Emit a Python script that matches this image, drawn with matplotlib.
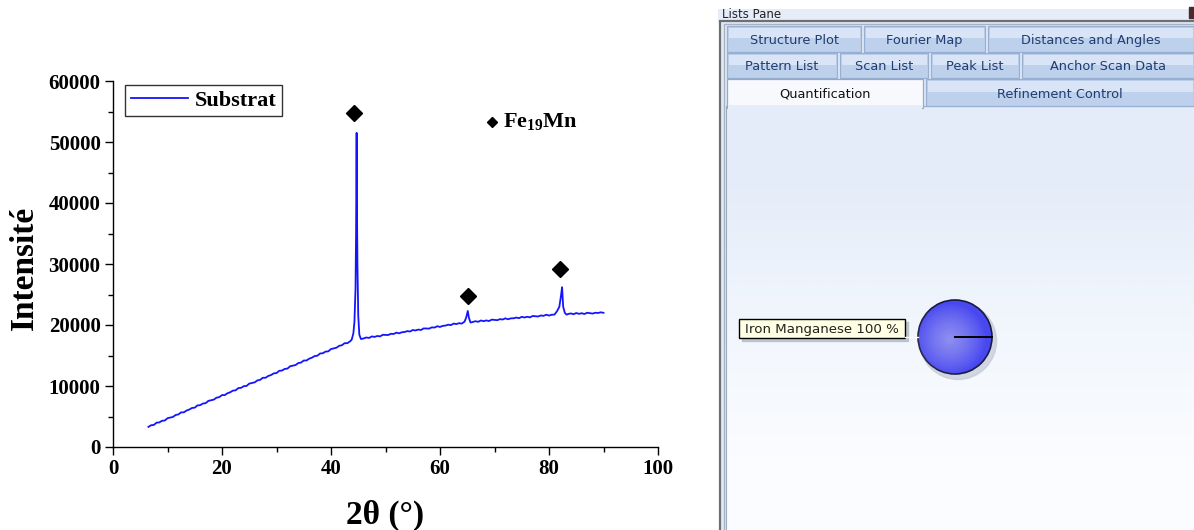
import matplotlib.pyplot as plt
from matplotlib.patches import Rectangle, Circle
from matplotlib.colors import LinearSegmentedColormap

# XRD pattern of the substrate (2theta in degrees, intensity in counts)
two_theta = [
    6.5, 7.0, 7.5, 8.0, 8.5, 9.0, 9.5, 10.0, 10.5, 11.0, 11.5, 12.0, 12.5, 13.0,
    13.5, 14.0, 14.5, 15.0, 15.5, 16.0, 16.5, 17.0, 17.5, 18.0, 18.5, 19.0, 19.5,
    20.0, 20.5, 21.0, 21.5, 22.0, 22.5, 23.0, 23.5, 24.0, 24.5, 25.0, 25.5, 26.0,
    26.5, 27.0, 27.5, 28.0, 28.5, 29.0, 29.5, 30.0, 30.5, 31.0, 31.5, 32.0, 32.5,
    33.0, 33.5, 34.0, 34.5, 35.0, 35.5, 36.0, 36.5, 37.0, 37.5, 38.0, 38.5, 39.0,
    39.5, 40.0, 40.5, 41.0, 41.5, 42.0, 42.5, 43.0, 43.5,
    43.8, 44.1, 44.3, 44.5, 44.6, 44.7, 44.75, 44.85, 45.0, 45.2, 45.5,
    46.0, 46.5, 47.0, 47.5, 48.0, 48.5, 49.0, 49.5, 50.0, 50.5, 51.0, 51.5,
    52.0, 52.5, 53.0, 53.5, 54.0, 54.5, 55.0, 55.5, 56.0, 56.5, 57.0, 57.5,
    58.0, 58.5, 59.0, 59.5, 60.0, 60.5, 61.0, 61.5, 62.0, 62.5, 63.0, 63.5, 64.0,
    64.5, 64.8, 65.1, 65.3, 65.6,
    66.0, 66.5, 67.0, 67.5, 68.0, 68.5, 69.0, 69.5, 70.0, 70.5, 71.0, 71.5,
    72.0, 72.5, 73.0, 73.5, 74.0, 74.5, 75.0, 75.5, 76.0, 76.5, 77.0, 77.5,
    78.0, 78.5, 79.0, 79.5, 80.0, 80.5, 81.0,
    81.5, 81.9, 82.2, 82.4, 82.6, 82.9, 83.2,
    83.5, 84.0, 84.5, 85.0, 85.5, 86.0, 86.5, 87.0, 87.5, 88.0, 88.5, 89.0,
    89.5, 90.0,
]
intensity = [
    3300, 3570, 3620, 3990, 4030, 4300, 4340, 4720, 4830, 4930, 5250, 5340, 5680, 5680,
    5980, 6140, 6400, 6450, 6820, 6860, 7130, 7180, 7560, 7670, 7770, 8090, 8170,
    8510, 8510, 8810, 8970, 9240, 9290, 9660, 9700, 9970, 10010, 10390, 10500, 10600,
    10920, 11010, 11350, 11350, 11650, 11800, 12070, 12120, 12490, 12530, 12800, 12850, 13230,
    13340, 13440, 13760, 13840, 14180, 14180, 14480, 14640, 14910, 14960, 15330, 15370, 15640,
    15680, 16060, 16170, 16270, 16590, 16680, 17020, 17020, 17320,
    17600, 18600, 20500, 26000, 35000, 51500, 41300, 30000, 21500, 18400, 17700,
    17800, 17950, 17880, 18130, 18050, 18200, 18130, 18390, 18380, 18360, 18560, 18530,
    18750, 18630, 18810, 18850, 19000, 18930, 19180, 19100, 19250, 19180, 19440, 19430,
    19410, 19610, 19580, 19800, 19680, 19860, 19900, 20050, 19980, 20230, 20150, 20300, 20230,
    20550, 21200, 22300, 21200, 20400,
    20500, 20620, 20520, 20740, 20630, 20750, 20650, 20880, 20840, 20790, 20960, 20900,
    21090, 20940, 21090, 21100, 21220, 21120, 21340, 21230, 21350, 21250, 21480, 21440,
    21390, 21560, 21500, 21690, 21540, 21690, 21700,
    22300, 23000, 24800, 26200, 23000, 22000, 21700,
    21800, 21900, 21770, 21960, 21830, 21930, 21800, 22010, 21940, 21870, 22010, 21970,
    22080, 22000,
]

# Fe19Mn reflections marked with diamonds
peak_pos = [44.3, 65.1, 82.1]
peak_mark = [54700, 24800, 29200]

# quantification result shown in the software pane
phase_name = 'Iron Manganese'
phase_fraction = [100]

tab_rows = [
    ['Structure Plot', 'Fourier Map', 'Distances and Angles'],
    ['Pattern List', 'Scan List', 'Peak List', 'Anchor Scan Data'],
    ['Quantification', 'Refinement Control'],
]
tab_edges = [
    [727, 864, 988, 1197],
    [727, 840, 931, 1022, 1197],
    [727, 926, 1197],
]
row_top = [26, 53, 79]
row_bot = [52, 78, 106]

plt.rcParams['font.family'] = 'Liberation Serif'
plt.rcParams['mathtext.fontset'] = 'custom'
plt.rcParams['mathtext.rm'] = 'Liberation Serif:bold'
plt.rcParams['mathtext.it'] = 'Liberation Serif:bold'

fig = plt.figure(figsize=(11.94, 5.30), dpi=100)

# ---- XRD pattern ----
ax = fig.add_axes([113 / 1194, 83 / 530, 545 / 1194, 366 / 530])
ax.plot(two_theta, intensity, color='#1414ff', lw=1.3, label='Substrat')
ax.plot(peak_pos, peak_mark, 'D', color='black', ms=8, ls='none')

ax.set_xlim(0, 100)
ax.set_ylim(0, 60000)
ax.set_xticks(range(0, 101, 20))
ax.set_xticks(range(10, 100, 20), minor=True)
ax.set_yticks(range(0, 60001, 10000))
ax.set_yticks(range(5000, 60000, 10000), minor=True)
ax.spines['top'].set_visible(False)
ax.spines['right'].set_visible(False)
for s in ['left', 'bottom']:
    ax.spines[s].set_linewidth(1.0)
ax.tick_params(which='major', direction='out', length=6, width=1, pad=3,
               labelsize=15)
ax.tick_params(which='minor', direction='out', length=3.5, width=1)
for lab in ax.get_xticklabels() + ax.get_yticklabels():
    lab.set_fontweight('bold')

ax.set_xlabel('2θ (°)', fontsize=24, fontweight='bold')
ax.set_ylabel('Intensité', fontsize=24, fontweight='bold')
ax.xaxis.set_label_coords(0.5, -0.145)
ax.yaxis.set_label_coords(-0.135, 0.49)

leg = ax.legend(loc='upper left', bbox_to_anchor=(0.022, 0.99), borderaxespad=0,
                fancybox=False, edgecolor='black', handlelength=2.6,
                handletextpad=0.3, borderpad=0.25,
                prop={'size': 16, 'weight': 'bold'})
leg.get_frame().set_linewidth(1.0)

ax.plot([69.5], [53300], 'D', color='black', ms=5)
ax.text(71.5, 53300, 'Fe$_{19}$Mn', fontsize=16, fontweight='bold',
        va='center', ha='left')

# ---- software "Lists Pane" screenshot ----
axp = fig.add_axes([718 / 1194, 0, 476 / 1194, 1])

axp.add_patch(Rectangle((718, 9), 480, 14, fc='#e6edf8', ec='none'))
axp.text(722, 14, 'Lists Pane', family='DejaVu Sans', fontsize=8.5,
         color='#222222', va='center')
axp.add_patch(Rectangle((1189, 7), 6, 11, color='#4a2a2a'))
axp.add_patch(Rectangle((720, 21), 480, 520, fc='#e2eaf6', ec='#6c6f73', lw=1.6))
axp.add_patch(Rectangle((724, 24), 480, 520, fc='#e2eaf6', ec='#a9b3bf', lw=1.0))

grad = LinearSegmentedColormap.from_list('pane', ['#e4ecf9', '#f1f6fd', '#fbfcff'])
axp.imshow([[0.0], [0.5], [1.0]], cmap=grad, aspect='auto', interpolation='bilinear',
           extent=(726, 1196, 530, 106), zorder=1)
axp.add_patch(Rectangle((726, 106), 470, 430, fc='none', ec='#9aacbf', lw=0.8,
                        zorder=2))

for r, labels in enumerate(tab_rows):
    edges = tab_edges[r]
    for i, lab in enumerate(labels):
        x0, x1 = edges[i], edges[i + 1] - 3
        y0, y1 = row_top[r], row_bot[r]
        if lab == 'Quantification':
            axp.add_patch(Rectangle((x0, y0), x1 - x0, y1 - y0 + 2,
                                    fc='#f7f9fd', ec='#94a9c6', lw=0.9, zorder=3))
            axp.add_patch(Rectangle((x0 + 1, y1 - 1), x1 - x0 - 2, 5,
                                    fc='#e5edf9', ec='none', zorder=3))
            col = '#111111'
        else:
            axp.add_patch(Rectangle((x0, y0), x1 - x0, y1 - y0,
                                    fc='#bed1ec', ec='#97afd0', lw=0.9, zorder=3))
            axp.add_patch(Rectangle((x0 + 1.5, y0 + 1.5), x1 - x0 - 3,
                                    (y1 - y0) * 0.42, fc='#d9e5f6', ec='none',
                                    zorder=3))
            col = '#1f3d70'
        axp.text((x0 + x1) / 2, (y0 + y1) / 2 + 1.5, lab, ha='center',
                 va='center', family='DejaVu Sans', fontsize=9.3, color=col,
                 zorder=4)

# pie of the quantified phases
cx, cy, rad = 955, 337, 37
axp.add_patch(Circle((cx + 3, cy + 4), rad + 1.5, color='#c3cad6', alpha=0.7,
                     zorder=2))
wedges, _ = axp.pie(phase_fraction, center=(cx, cy), radius=rad,
                    colors=['#4848f0'], startangle=0, frame=True,
                    wedgeprops=dict(edgecolor='#1a1a40', linewidth=1.2))
for w in wedges:
    w.set_zorder(3)
for k in range(14):
    axp.add_patch(Circle((cx - 5, cy + 2), rad * (0.95 - 0.065 * k),
                         color='#ffffff', alpha=0.035, lw=0, zorder=4))
axp.plot([cx, cx + rad], [cy, cy], color='black', lw=1.4, zorder=5)
axp.plot([905, cx - rad], [cy, cy], color='white', lw=1, zorder=5)

axp.add_patch(Rectangle((742, 322), 166, 19, color='#a3acb7', alpha=0.6, zorder=3))
axp.add_patch(Rectangle((739, 319), 166, 19, fc='#ffffe4', ec='black', lw=1,
                        zorder=4))
axp.text(745, 329, f'{phase_name} {phase_fraction[0]} %', family='DejaVu Sans',
         fontsize=9.6, color='#222222', va='center', ha='left', zorder=5)

axp.set_xlim(718, 1194)
axp.set_ylim(530, 0)
axp.set_aspect('auto')
axp.axis('off')

fig.savefig('out.png', dpi=100)
